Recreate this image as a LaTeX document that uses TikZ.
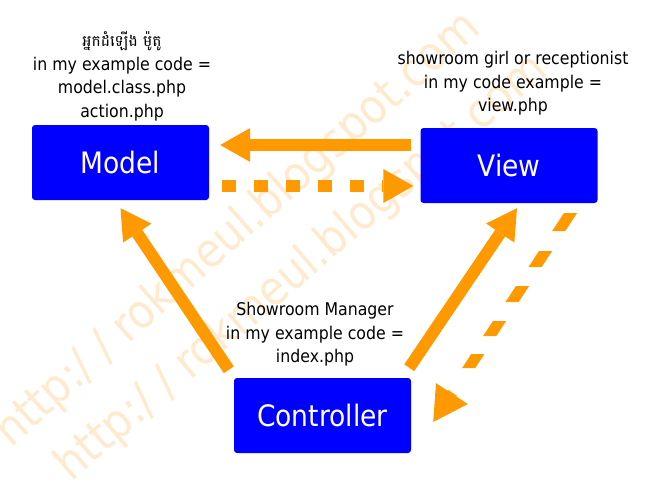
\documentclass[tikz,border=0pt]{standalone}
\usepackage{fontspec}
\setmainfont[FakeStretch=0.9]{DejaVu Sans}
\newfontfamily\khmerfont[Script=Khmer]{Battambang}
\usetikzlibrary{arrows.meta,calc}
\definecolor{mvcblue}{RGB}{0,0,255}
\definecolor{mvcorange}{RGB}{255,153,0}
\definecolor{wmark}{RGB}{255,234,206}
\begin{document}
\begin{tikzpicture}[x=1pt,y=-1pt,
  box/.style={fill=mvcblue, draw=none, rounded corners=3pt, minimum width=177pt,
    minimum height=75pt, inner sep=0pt, text=white, font=\fontsize{29.5}{32}\selectfont},
  lbl/.style={align=center, font=\fontsize{17.5}{23.5}\selectfont, inner sep=0pt},
  flow/.style={draw=mvcorange, line width=12pt,
    -{Triangle[width=34pt,length=30pt,line width=0pt]}},
  flowdot/.style={flow, dash pattern=on 14pt off 18pt},
  wm/.style={text=wmark, font=\fontsize{47}{49}\selectfont, inner sep=0pt}
]
\useasboundingbox (0,0) rectangle (650,487);
% watermark
\node[wm, rotate=41.5] (wm1) at (238,230) {http:/ / rokmeul.blogspot.com};
\node[wm, rotate=40.5] (wm2) at (302,268) {http:/ / rokmeul.blogspot.com};
% boxes
\node[box] (model) at (120.5,162.5) {Model};
\node[box] (view) at (509,165.5) {View};
\node[box] (ctrl) at (322.5,415.5) {Controller};
% labels
\node[lbl] (mlbl) at (122,76) {{\khmerfont\fontsize{15.5}{23.5}\selectfont អ្នកដំឡើង ម៉ូតូ}\\in my example code =\\model.class.php\\action.php};
\node[lbl] (vlbl) at (513,83.5) {showroom girl or receptionist\\in my code example =\\view.php};
\node[lbl] (clbl) at (315,334.5) {Showroom Manager\\in my example code =\\index.php};
% connectors
\draw[flow] ([xshift=-9pt,yshift=20.5pt]view.west) -- ([xshift=11pt,yshift=17.5pt]model.east);
\draw[flowdot] ([xshift=13pt,yshift=-23.5pt]model.east) -- ([xshift=-7pt,yshift=-20.5pt]view.west);
\draw[flow] ([xshift=-5pt,yshift=8pt]ctrl.north west) -- ([yshift=-8pt]model.south);
\draw[flow] ([xshift=-2pt,yshift=10pt]ctrl.north east) -- ([xshift=8pt,yshift=-5pt]view.south);
% dashed return connector
\coordinate (ds) at ([xshift=-24pt,yshift=-5pt]view.south east);
\coordinate (dt) at ([xshift=22pt,yshift=-6.5pt]ctrl.east);
\coordinate (hb) at ($(dt)!35pt!(ds)$);
\coordinate (hb1) at ($(hb)!300pt!90:(dt)$);
\coordinate (hb2) at ($(hb)!300pt!-90:(dt)$);
\begin{scope}
\clip (0,213) rectangle (650,231) (0,251) rectangle (650,267) (0,286) rectangle (650,302)
      (0,321) rectangle (650,336) (0,354) rectangle (650,368)
      (hb1) -- (hb2) -- ($(hb2)+3*(dt)-3*(hb)$) -- ($(hb1)+3*(dt)-3*(hb)$) -- cycle;
\draw[flow, line width=11pt, -{Triangle[width=38pt,length=34pt,line width=0pt]}] (ds) -- (dt);
\end{scope}
\end{tikzpicture}
\end{document}
